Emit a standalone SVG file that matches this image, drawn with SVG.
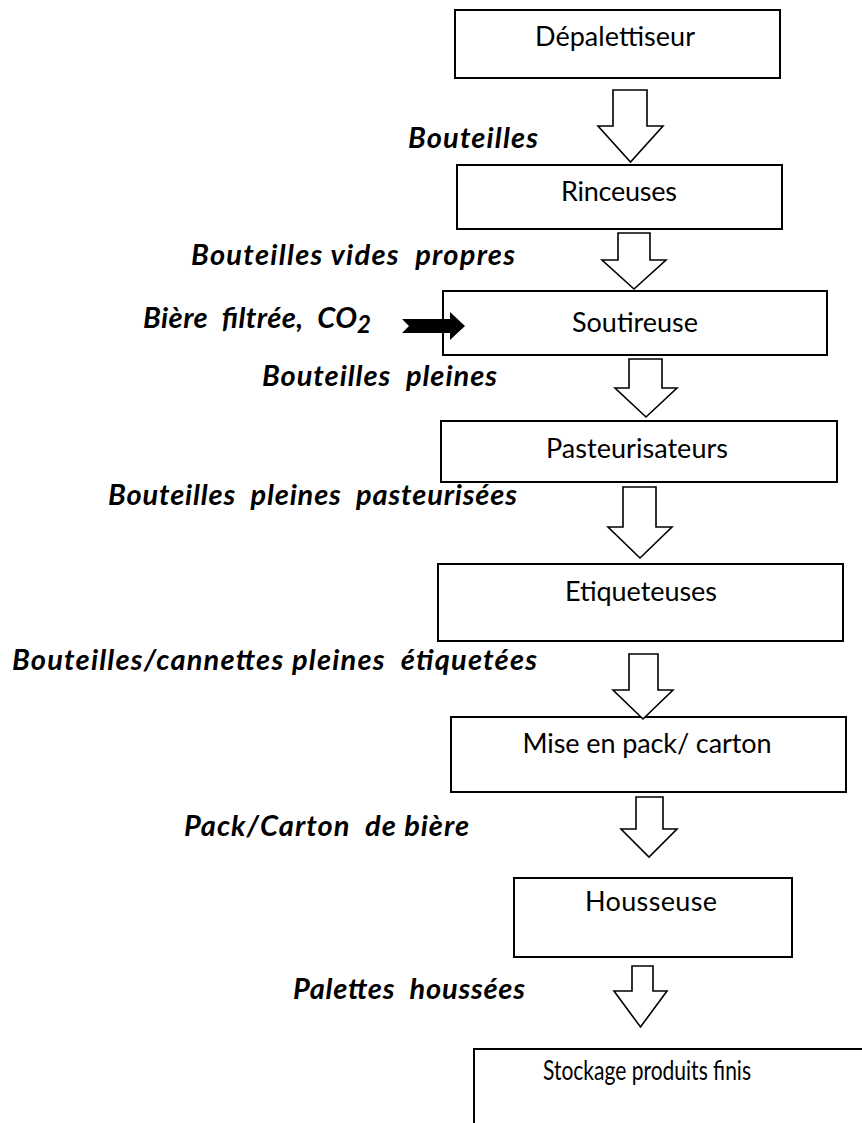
<svg xmlns="http://www.w3.org/2000/svg" width="862" height="1123" viewBox="0 0 862 1123">
  <style>
    .box { fill: #fff; stroke: #000; stroke-width: 2; }
    .open { fill: none; stroke: #000; stroke-width: 2; }
    .flow { fill: #fff; stroke: #000; stroke-width: 1.6; stroke-linejoin: miter; }
    .feed { fill: #000; stroke: none; }
    .step { font-family: Lato, "Open Sans", sans-serif; font-size: 27px; fill: #000; text-anchor: middle; }
    .lbl { font-family: Lato, "Open Sans", sans-serif; font-size: 29px; font-weight: bold; font-style: italic; fill: #000; }
  </style>
  <rect width="862" height="1123" fill="#fff"/>

  <!-- process steps -->
  <g id="depalettiseur">
    <rect class="box" x="455" y="10" width="325" height="68"/>
    <text class="step" x="615" y="46" textLength="160">Dépalettiseur</text>
  </g>
  <g id="rinceuses">
    <rect class="box" x="457" y="165" width="325" height="64"/>
    <text class="step" x="619" y="201" textLength="116">Rinceuses</text>
  </g>
  <g id="soutireuse">
    <rect class="box" x="443" y="291" width="384" height="64"/>
    <text class="step" x="635" y="332" textLength="126">Soutireuse</text>
  </g>
  <g id="pasteurisateurs">
    <rect class="box" x="441" y="421" width="396" height="61"/>
    <text class="step" x="637" y="458" textLength="182">Pasteurisateurs</text>
  </g>
  <g id="etiqueteuses">
    <rect class="box" x="438" y="564" width="405" height="77"/>
    <text class="step" x="641" y="601" textLength="152">Etiqueteuses</text>
  </g>
  <g id="mise-en-pack">
    <rect class="box" x="451" y="717" width="395" height="75"/>
    <text class="step" x="647" y="753" textLength="249">Mise en pack/ carton</text>
  </g>
  <g id="housseuse">
    <rect class="box" x="514" y="878" width="278" height="79"/>
    <text class="step" x="651" y="911" textLength="132">Housseuse</text>
  </g>
  <g id="stockage">
    <path class="open" d="M862 1049 H474 V1123"/>
    <text class="step" x="647" y="1080" font-size="24" textLength="208" lengthAdjust="spacingAndGlyphs">Stockage produits finis</text>
  </g>

  <!-- flow arrows between steps, and the beer/CO2 feed -->
  <g id="connectors">
    <polygon class="flow" points="613,90 647,90 647,126 663,126 630.5,162 598,126 613,126"/>
    <polygon class="flow" points="618,233 650,233 650,260 666,260 634,289 602,260 618,260"/>
    <polygon class="flow" points="629,359 662,359 662,388 677,388 646,417 615,388 629,388"/>
    <polygon class="flow" points="623,487 656,487 656,527 672,527 640,558 608,527 623,527"/>
    <polygon class="flow" points="629,654 658,654 658,690 673,690 643,719 613,690 629,690"/>
    <polygon class="flow" points="636,797 663,797 663,829 677,829 649,857 621,829 636,829"/>
    <polygon class="flow" points="632,966 653,966 653,991 667,991 640.5,1027 614,991 632,991"/>
    <polygon class="feed" points="402,319 450,319 450,312 465,326 450,340 450,333 402,333 409,326"/>
  </g>

  <!-- stream labels -->
  <g id="labels">
    <text class="lbl" x="408" y="148" textLength="130">Bouteilles</text>
    <text class="lbl" x="191" y="265" textLength="324" xml:space="preserve">Bouteilles vides  propres</text>
    <text class="lbl" y="328" xml:space="preserve"><tspan x="143" textLength="214">Bière  filtrée,  CO</tspan><tspan x="357" dy="5" font-size="24">2</tspan></text>
    <text class="lbl" x="262" y="386" textLength="235" xml:space="preserve">Bouteilles  pleines</text>
    <text class="lbl" x="108" y="505" textLength="409" xml:space="preserve">Bouteilles  pleines  pasteurisées</text>
    <text class="lbl" x="12" y="670" textLength="525" xml:space="preserve">Bouteilles/cannettes pleines  étiquetées</text>
    <text class="lbl" x="184" y="836" textLength="285" xml:space="preserve">Pack/Carton  de bière</text>
    <text class="lbl" x="293" y="999" textLength="232" xml:space="preserve">Palettes  houssées</text>
  </g>
</svg>
